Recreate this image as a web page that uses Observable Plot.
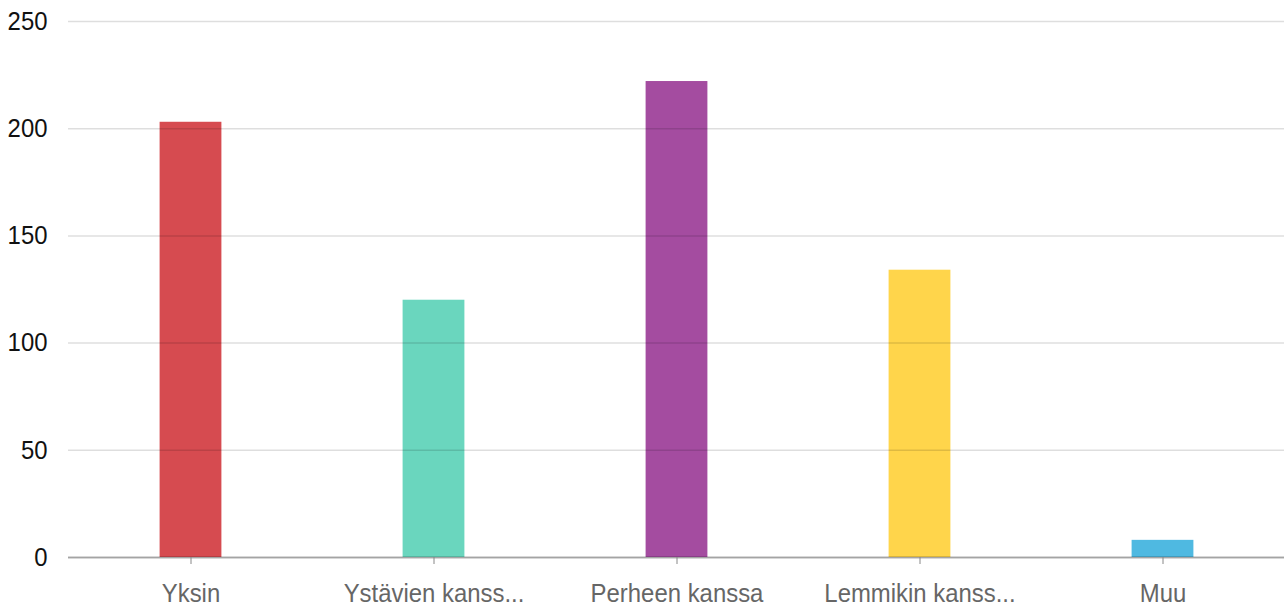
<!DOCTYPE html>
<html>
<head>
<meta charset="utf-8">
<script src="https://cdn.jsdelivr.net/npm/d3@7"></script>
<script src="https://cdn.jsdelivr.net/npm/@observablehq/plot@0.6"></script>
<style>
  html, body { margin: 0; padding: 0; background: #fff; }
  #chart svg { display: block; }
</style>
</head>
<body>
<div id="chart"></div>
<script>
const categories = ["Yksin", "Ystävien kanss...", "Perheen kanssa", "Lemmikin kanss...", "Muu"];
const values = [203, 120, 222, 134, 8];
const yTicks = [0, 50, 100, 150, 200, 250];
const palette = ["#d64b50", "#6ad6be", "#a44ca0", "#ffd54b", "#4fb9e1"];

const data = categories.map((c, i) => ({category: c, value: values[i]}));

const chart = Plot.plot({
  width: 1286,
  height: 611,
  marginLeft: 68,
  marginRight: 2,
  marginTop: 21,
  marginBottom: 54,
  style: {fontFamily: "'Liberation Sans', Arial, sans-serif", fontSize: "26px", background: "#fff"},
  x: {domain: categories, padding: 0, label: null},
  y: {domain: [0, 250], label: null},
  color: {domain: categories, range: palette},
  marks: [
    Plot.barY(data, {x: "category", y: "value", fill: "category", insetLeft: 90.6, insetRight: 90.6}),
    Plot.gridY(yTicks, {stroke: "#000", strokeOpacity: 0.13, strokeWidth: 1.5}),
    Plot.ruleY([0], {stroke: "#000", strokeOpacity: 0.26, strokeWidth: 2}),
    Plot.axisY({ticks: yTicks, tickSize: 0, tickPadding: 21, fill: "#111", fontSize: 26, label: null}),
    Plot.axisX({tickSize: 7, tickPadding: 19, fill: "#666", stroke: "#888", fontSize: 26, label: null})
  ]
});

// The reference typeface is slightly condensed; narrow each label around its anchor.
chart.querySelectorAll("text").forEach(t => {
  const tr = t.getAttribute("transform");
  if (tr) {
    t.setAttribute("transform", tr + " scale(0.92,1)");
  } else {
    const x = +(t.getAttribute("x") || 0), y = +(t.getAttribute("y") || 0);
    t.removeAttribute("x"); t.removeAttribute("y");
    t.setAttribute("transform", `translate(${x},${y}) scale(0.92,1)`);
  }
});
document.getElementById("chart").appendChild(chart);
</script>
</body>
</html>
